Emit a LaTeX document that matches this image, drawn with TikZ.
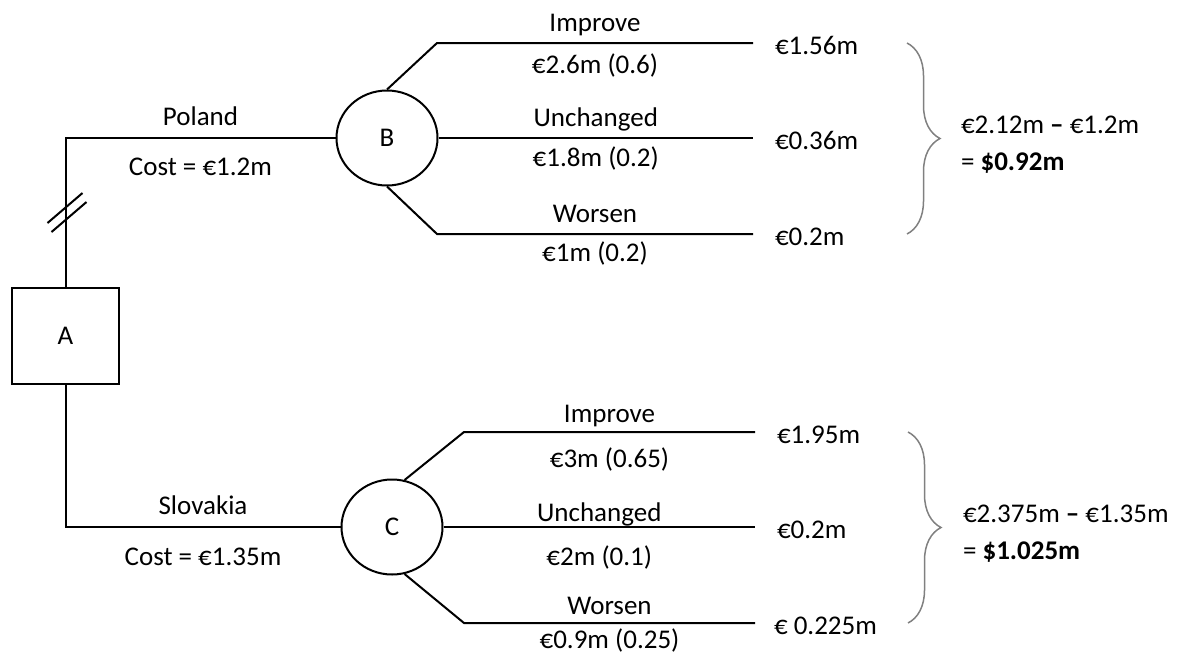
\documentclass[tikz,border=0pt]{standalone}
\usepackage{fontspec}
\setmainfont{Carlito}
\usetikzlibrary{shapes.geometric,decorations.pathreplacing}

\begin{document}
\begin{tikzpicture}[
	x=0.5pt,
	y=-0.5pt,
	line width=1pt,
	font=\fontsize{13.5pt}{18.5pt}\selectfont,
	decision/.style={
		rectangle,
		draw=black,
		minimum width=53.5pt,
		minimum height=48pt
	},
	chance/.style={
		ellipse,
		draw=black,
		inner sep=0pt,
		minimum width=50.5pt,
		minimum height=47.5pt
	},
	up/.style={
		above=#1,
		inner sep=0pt,
		text depth=0pt
	},
	up/.default=5.5pt,
	down/.style={
		below=#1,
		inner sep=0pt,
		text height=8.7pt,
		text depth=0pt
	},
	down/.default=5pt,
	payoff/.style={
		right=10.5pt,
		yshift=-1.25pt,
		inner sep=0pt,
		text height=8.7pt,
		text depth=0pt
	},
	result/.style={
		anchor=north west,
		align=left,
		inner sep=0pt
	},
	bracket/.style={
		draw=gray,
		line width=0.75pt,
		decorate,
		decoration={brace, amplitude=16.5pt}
	}
]
\useasboundingbox (0,0) rectangle (1177,659);

% Decision
\node[decision] (A) at (65.5,336) {A};

% Chance nodes
\node[chance] (B) at (387,138) {B};
\node[chance] (C) at (392,527) {C};

% Branch points
\coordinate (bk1) at (437,43);
\coordinate (bk3) at (437,234);
\coordinate (ck1) at (464,432);
\coordinate (ck3) at (464,623);
\coordinate (b1) at (753,43);
\coordinate (b2) at (753,138);
\coordinate (b3) at (753,234);
\coordinate (c1) at (755,432);
\coordinate (c2) at (755,527);
\coordinate (c3) at (755,623);

% Options
\draw (A) |- (B) node[pos=0.75, up=6pt] (pl) {Poland}
	node[pos=0.75, down=9.5pt] (plc) {Cost = €1.2m};
\draw (A) |- (C) node[pos=0.75, up=6pt] (sk) {Slovakia}
	node[pos=0.75, down=10pt] (skc) {Cost = €1.35m};

\foreach \x/\y in {65/208, 69/217}
	\draw (\x-17.5,\y+15) -- (\x+17.5,\y-15);

% Poland outcomes
\draw (B.north) -- (bk1) -- (b1) node[midway, up] (bi) {Improve}
	node[midway, down=6pt] (biv) {€2.6m (0.6)};
\draw (B.east) -- (b2) node[midway, up] (bu) {Unchanged}
	node[midway, down] (buv) {€1.8m (0.2)};
\draw (B.south) -- (bk3) -- (b3) node[midway, up] (bw) {Worsen}
	node[midway, down=4.5pt] (bwv) {€1m (0.2)};

% Slovakia outcomes
\draw (C.75) -- (ck1) -- (c1) node[midway, up=4.5pt] (ci) {Improve}
	node[midway, down=8.5pt] (civ) {€3m (0.65)};
\draw (C.east) -- (c2) node[midway, up=2.5pt] (cu) {Unchanged}
	node[midway, down=10pt] (cuv) {€2m (0.1)};
\draw (C.-75) -- (ck3) -- (c3) node[midway, up=4pt] (cw) {Worsen}
	node[midway, down=3.5pt] (cwv) {€0.9m (0.25)};

% Payoffs
\node[payoff] (pb1) at (b1) {€1.56m};
\node[payoff] (pb2) at (b2) {€0.36m};
\node[payoff] (pb3) at (b3) {€0.2m};
\node[payoff] (pc1) at (c1) {€1.95m};
\node[payoff] (pc2) at (c2) {€0.2m};
\node[payoff, xshift=-1.5pt] (pc3) at (c3) {€ 0.225m};

% Expected values
\coordinate (bt) at (907,43);
\coordinate (bb) at (907,234);
\coordinate (ct) at (908,432);
\coordinate (cb) at (908,623);
\draw[bracket] (bt) -- (bb);
\draw[bracket] (ct) -- (cb);

\node[result] (rb) at (960,115) {€2.12m \textbf{–} €1.2m\\= \textbf{\$0.92m}};
\node[result] (rc) at (962,504) {€2.375m \textbf{–} €1.35m\\= \textbf{\$1.025m}};

\end{tikzpicture}
\end{document}
